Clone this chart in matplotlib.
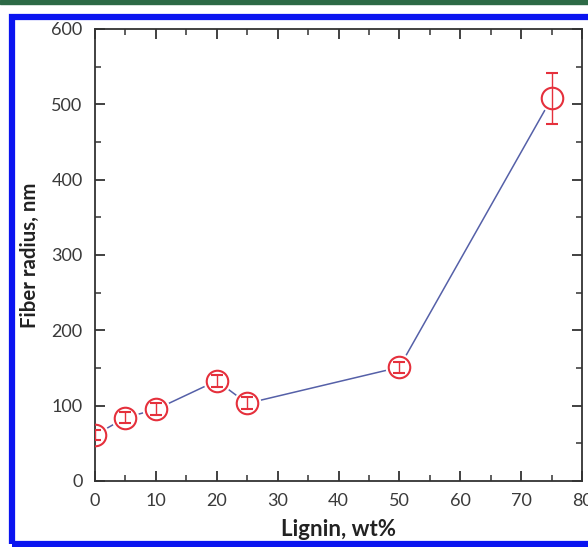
import matplotlib.pyplot as plt
from matplotlib.patches import Rectangle
from matplotlib.ticker import MultipleLocator

# data
lignin = [0, 5, 10, 20, 25, 50, 75]
radius = [61, 84, 95, 133, 103, 151, 508]
radius_err = [7, 7, 8, 8, 8, 7, 34]

plt.rcParams['font.family'] = ['Lato', 'DejaVu Sans']

fig = plt.figure(figsize=(5.88, 5.47), dpi=100)
ax = fig.add_axes([0.1616, 0.1207, 0.8282, 0.8263])

# connecting line, then white halo so the line stops short of the markers
ax.plot(lignin, radius, color='#5560a8', lw=1.1, zorder=1)
ax.plot(lignin, radius, ls='none', marker='o', ms=19, mfc='white', mec='white', zorder=2)
ax.errorbar(lignin, radius, yerr=radius_err, fmt='o', ms=15.5, mfc='none',
            mec='#e5303c', mew=1.5, ecolor='#e5303c', elinewidth=1.0,
            capsize=4, capthick=1.0, zorder=3)

ax.set_xlim(0, 80)
ax.set_ylim(0, 600)
ax.xaxis.set_major_locator(MultipleLocator(10))
ax.xaxis.set_minor_locator(MultipleLocator(5))
ax.yaxis.set_major_locator(MultipleLocator(100))
ax.yaxis.set_minor_locator(MultipleLocator(50))
ax.tick_params(which='both', direction='in', top=True, right=True,
               labelsize=13, labelcolor='#3a3a3a', color='#333333')
ax.tick_params(which='major', length=7, width=1.3, pad=9)
ax.tick_params(which='minor', length=4, width=1.1)
for s in ax.spines.values():
    s.set_linewidth(1.3)
    s.set_color('#333333')

ax.set_xlabel('Lignin, wt%', fontsize=16, fontweight='bold', color='#222222', va='center')
ax.set_ylabel('Fiber radius, nm', fontsize=14.7, fontweight='bold', color='#222222', va='center')
ax.xaxis.set_label_coords(0.5, -(530 - 481) / 452)
ax.yaxis.set_label_coords(-(95 - 30) / 487, 0.5)

# page frame around the figure
fig.patches.append(Rectangle((0, 1 - 4/547), 1, 4/547, transform=fig.transFigure,
                             color='#2d6a46', zorder=0))
fig.patches.append(Rectangle((12/588, 3/547), 1, 1 - 20/547, transform=fig.transFigure,
                             fill=False, ec='#0a14f0', lw=4.5, zorder=0))

fig.savefig('out.png', dpi=100)
